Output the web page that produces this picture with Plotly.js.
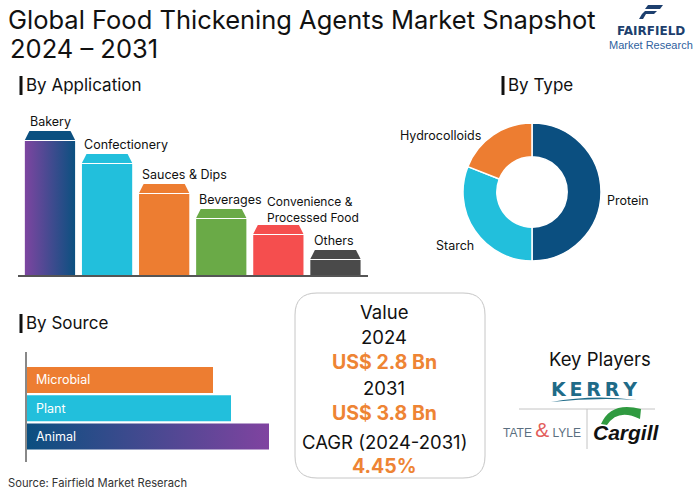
<!DOCTYPE html>
<html>
<head>
<meta charset="utf-8">
<script src="https://cdn.plot.ly/plotly-3.0.1.min.js"></script>
<style>html,body{margin:0;padding:0;background:#fff;}#chart{width:700px;height:491px;}</style>
</head>
<body>
<div id="chart"></div>
<script>
// ---------- DATA ----------
const appCategories = ['Bakery', 'Confectionery', 'Sauces & Dips', 'Beverages', 'Convenience &<br>Processed Food', 'Others'];
const appValues = [144, 121, 91, 66, 50, 25];

const typeLabels = ['Protein', 'Starch', 'Hydrocolloids'];
const typeValues = [50, 31, 19];

const sourceCategories = ['Animal', 'Plant', 'Microbial'];
const sourceValues = [242, 204, 186];

const marketYears = ['2024', '2031'];
const marketValues = [2.8, 3.8];
const cagrPeriod = '2024-2031';
const cagrValue = 4.45;

const keyPlayers = ['KERRY', 'TATE & LYLE', 'Cargill'];

// ---------- STYLE ----------
const W = 700, H = 491;
const X = px => px / W;
const Y = py => 1 - py / H;
const FONT = 'Inter, "Open Sans", sans-serif';
const ORANGE = '#ee8434';
const appColors = ['#0b5080', '#22bfdc', '#ed7d31', '#6aaa47', '#f54e4e', '#4a4a4a'];
const appGradient = [[0, '#7d45a0'], [1, '#0b5080']];
const labelDx = [4, 1, 2, 2, 13, 3];
const labelDy = [1, 1, 1, 1, -1, 1];
const sourceColors = ['#0b4f80', '#22bfdc', '#ed7d31'];
const sourceGradient = [[0, '#0b4f80'], [1, '#8043a0']];
const typeColors = ['#0b4f80', '#22bfdc', '#ed7d31'];

const traces = [];
const annotations = [];
const shapes = [];

// ---------- Application bars ----------
const hw = 0.44, capH = 9, gap = 1, inset = 0.08;
appValues.forEach((v, i) => {
  const top = v - capH - gap;
  const body = {
    type: 'scatter', mode: 'lines', xaxis: 'x', yaxis: 'y',
    x: [i - hw, i + hw, i + hw, i - hw, i - hw],
    y: [0, 0, top, top, 0],
    fill: 'toself', fillcolor: appColors[i], line: {width: 0}, hoverinfo: 'skip', showlegend: false
  };
  if (i === 0) body.fillgradient = {type: 'horizontal', colorscale: appGradient};
  traces.push(body);
  traces.push({
    type: 'scatter', mode: 'lines', xaxis: 'x', yaxis: 'y',
    x: [i - hw, i + hw, i + hw - inset, i - hw + inset, i - hw],
    y: [v - capH, v - capH, v, v, v - capH],
    fill: 'toself', fillcolor: appColors[i], line: {width: 0}, hoverinfo: 'skip', showlegend: false
  });
  const multi = appCategories[i].indexOf('<br>') >= 0;
  annotations.push({
    xref: 'x', yref: 'y', x: i - hw, y: v, xanchor: 'left', yanchor: 'bottom', align: 'left',
    xshift: labelDx[i], yshift: labelDy[i], text: appCategories[i], showarrow: false, borderpad: 0,
    font: {family: FONT, size: multi ? 12 : 12.5, color: '#111'}
  });
});

// ---------- Source bars ----------
const hh = 0.46;
sourceValues.forEach((v, i) => {
  const tr = {
    type: 'scatter', mode: 'lines', xaxis: 'x2', yaxis: 'y2',
    x: [0, v, v, 0, 0],
    y: [i - hh, i - hh, i + hh, i + hh, i - hh],
    fill: 'toself', fillcolor: sourceColors[i], line: {width: 0}, hoverinfo: 'skip', showlegend: false
  };
  if (i === 0) tr.fillgradient = {type: 'horizontal', colorscale: sourceGradient};
  traces.push(tr);
  annotations.push({
    xref: 'x2', yref: 'y2', x: 0, y: i, xanchor: 'left', yanchor: 'middle', xshift: 7,
    text: sourceCategories[i], showarrow: false, font: {family: FONT, size: 12.5, color: '#fff'}
  });
});

// ---------- Type donut ----------
traces.push({
  type: 'pie', labels: typeLabels, values: typeValues, sort: false, direction: 'clockwise',
  rotation: 0, hole: 0.51, textinfo: 'none', hoverinfo: 'skip', showlegend: false,
  marker: {colors: typeColors, line: {color: '#fff', width: 1.5}},
  domain: {x: [X(463), X(601)], y: [Y(261), Y(123)]}
});
const typeLabelPos = [[628, 201], [455, 246], [440, 135]];
typeLabels.forEach((t, i) => {
  annotations.push({xref: 'paper', yref: 'paper', x: X(typeLabelPos[i][0]), y: Y(typeLabelPos[i][1]),
    xanchor: 'center', yanchor: 'middle', text: t, showarrow: false, font: {family: FONT, size: 12.5, color: '#111'}});
});

// ---------- Headers ----------
function header(text, x, y) {
  shapes.push({type: 'rect', xref: 'paper', yref: 'paper', x0: X(x - 7.5), x1: X(x - 4.5), y0: Y(y + 10), y1: Y(y - 9),
    fillcolor: '#111', line: {width: 0}});
  annotations.push({xref: 'paper', yref: 'paper', x: X(x - 3), y: Y(y), xanchor: 'left', yanchor: 'middle',
    text: text, showarrow: false, font: {family: FONT, size: 17, color: '#111'}});
}
header('By Application', 27, 85);
header('By Type', 509, 85);
header('By Source', 27, 323);

// Title second line
annotations.push({xref: 'paper', yref: 'paper', x: X(8), y: Y(48), xanchor: 'left', yanchor: 'middle',
  text: '2024 – 2031', showarrow: false, font: {family: FONT, size: 25.5, color: '#111'}});

// ---------- Value box ----------
const bx0 = 295, bx1 = 485, by0 = 293, by1 = 478, r = 22;
shapes.push({type: 'path', xref: 'paper', yref: 'paper', line: {color: '#c6c6c6', width: 1}, fillcolor: 'rgba(0,0,0,0)',
  path: `M ${X(bx0 + r)},${Y(by0)} L ${X(bx1 - r)},${Y(by0)} Q ${X(bx1)},${Y(by0)} ${X(bx1)},${Y(by0 + r)} ` +
        `L ${X(bx1)},${Y(by1 - r)} Q ${X(bx1)},${Y(by1)} ${X(bx1 - r)},${Y(by1)} L ${X(bx0 + r)},${Y(by1)} ` +
        `Q ${X(bx0)},${Y(by1)} ${X(bx0)},${Y(by1 - r)} L ${X(bx0)},${Y(by0 + r)} Q ${X(bx0)},${Y(by0)} ${X(bx0 + r)},${Y(by0)} Z`});
const cx = 384;
const boxLines = [
  ['Value', 312, false],
  [marketYears[0], 337, false],
  ['US$ ' + marketValues[0].toFixed(1) + ' Bn', 362, true],
  [marketYears[1], 388, false],
  ['US$ ' + marketValues[1].toFixed(1) + ' Bn', 413, true],
  ['CAGR (' + cagrPeriod + ')', 442, false],
  [cagrValue.toFixed(2) + '%', 466, true]
];
boxLines.forEach(([t, y, hl]) => {
  annotations.push({xref: 'paper', yref: 'paper', x: X(cx), y: Y(y), xanchor: 'center', yanchor: 'middle',
    text: hl ? '<b>' + t + '</b>' : t, showarrow: false,
    font: {family: FONT, size: hl ? 19.5 : 18.5, color: hl ? ORANGE : '#111'}});
});

// ---------- Key players ----------
annotations.push({xref: 'paper', yref: 'paper', x: X(600), y: Y(359), xanchor: 'center', yanchor: 'middle',
  text: 'Key Players', showarrow: false, font: {family: FONT, size: 18.5, color: '#111'}});
annotations.push({xref: 'paper', yref: 'paper', x: X(594), y: Y(389), xanchor: 'center', yanchor: 'middle',
  text: '<b>' + keyPlayers[0].split('').join('\u2009') + '</b>', showarrow: false,
  font: {family: '"DejaVu Sans", sans-serif', size: 19, color: '#1f6b88'}});
shapes.push({type: 'path', xref: 'paper', yref: 'paper', line: {width: 0}, fillcolor: '#1f6b88',
  path: `M ${X(551)},${Y(402)} Q ${X(594)},${Y(394)} ${X(637)},${Y(400)} Q ${X(594)},${Y(397.5)} ${X(551)},${Y(402)} Z`});
shapes.push({type: 'line', xref: 'paper', yref: 'paper', x0: X(519), x1: X(655), y0: Y(409), y1: Y(409), line: {color: '#c4c4c4', width: 1}});
shapes.push({type: 'line', xref: 'paper', yref: 'paper', x0: X(587), x1: X(587), y0: Y(409), y1: Y(449), line: {color: '#c4c4c4', width: 1}});
const tl = keyPlayers[1].split(' & ');
annotations.push({xref: 'paper', yref: 'paper', x: X(542), y: Y(429), xanchor: 'center', yanchor: 'middle',
  text: tl[0] + ' <span style="color:#e35d5b;font-size:21px">&</span> ' + tl[1], showarrow: false,
  font: {family: '"Liberation Sans", Arial, sans-serif', size: 12, color: '#5b6f80'}});
annotations.push({xref: 'paper', yref: 'paper', x: X(626), y: Y(432), xanchor: 'center', yanchor: 'middle',
  text: '<b><i>' + keyPlayers[2] + '</i></b>', showarrow: false,
  font: {family: '"Liberation Sans", Arial, sans-serif', size: 21, color: '#111'}});
shapes.push({type: 'path', xref: 'paper', yref: 'paper', line: {width: 0}, fillcolor: '#2f9a40',
  path: `M ${X(601)},${Y(424)} Q ${X(611)},${Y(401)} ${X(641)},${Y(409)} L ${X(640)},${Y(419)} Q ${X(618)},${Y(408)} ${X(607)},${Y(425)} Z`});

// ---------- Logo ----------
const logoCol = '#1d3f6e';
[[[648,5],[663,5],[660,9],[645,9]], [[645,11],[657,11],[654,14],[642,14]], [[642,14],[646,14],[643,19],[639,19]]].forEach(p => {
  shapes.push({type: 'path', xref: 'paper', yref: 'paper', line: {width: 0}, fillcolor: logoCol,
    path: 'M ' + p.map(q => X(q[0]) + ',' + Y(q[1])).join(' L ') + ' Z'});
});
annotations.push({xref: 'paper', yref: 'paper', x: X(651), y: Y(31), xanchor: 'center', yanchor: 'middle',
  text: '<b>FAIRFIELD</b>', showarrow: false, font: {family: '"DejaVu Sans", sans-serif', size: 12, color: logoCol}});
annotations.push({xref: 'paper', yref: 'paper', x: X(651), y: Y(44.5), xanchor: 'center', yanchor: 'middle',
  text: 'Market Research', showarrow: false, font: {family: '"Liberation Sans", Arial, sans-serif', size: 11, color: '#2f5f9e'}});

// ---------- Source ----------
annotations.push({xref: 'paper', yref: 'paper', x: X(6), y: Y(483), xanchor: 'left', yanchor: 'middle',
  text: 'Source: Fairfield Market Reserach', showarrow: false, font: {family: FONT, size: 11.2, color: '#333'}});

const hidden = {showgrid: false, zeroline: false, showticklabels: false, ticks: ''};
const layout = {
  width: W, height: H, margin: {l: 0, r: 0, t: 0, b: 0},
  paper_bgcolor: '#fff', plot_bgcolor: 'rgba(0,0,0,0)', showlegend: false,
  title: {text: 'Global Food Thickening Agents Market Snapshot', x: X(8), xanchor: 'left', xref: 'paper',
    y: Y(20), yanchor: 'middle', yref: 'container', font: {family: FONT, size: 25.5, color: '#111'}},
  xaxis: Object.assign({domain: [X(18), X(368)], range: [-0.56, 5.57], anchor: 'y', fixedrange: true,
    showline: true, linecolor: '#555', linewidth: 1.5}, hidden),
  yaxis: Object.assign({domain: [Y(275), Y(110)], range: [0, 165], anchor: 'x', fixedrange: true, showline: false}, hidden),
  xaxis2: Object.assign({domain: [X(27), X(327)], range: [0, 300], anchor: 'y2', fixedrange: true, showline: false}, hidden),
  yaxis2: Object.assign({domain: [Y(462), Y(352)], range: [-0.9, 2.99], anchor: 'x2', fixedrange: true,
    showline: true, linecolor: '#888', linewidth: 2}, hidden),
  annotations: annotations,
  shapes: shapes
};
Plotly.newPlot('chart', traces, layout, {staticPlot: true, displayModeBar: false});
</script>
</body>
</html>
